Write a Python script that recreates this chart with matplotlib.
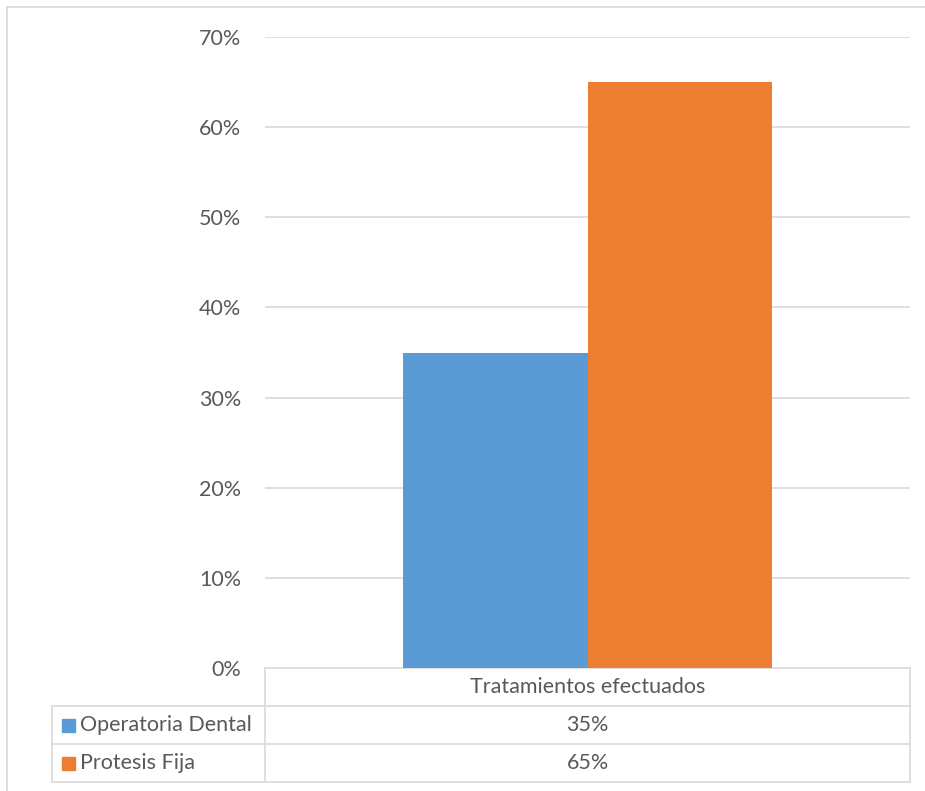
import matplotlib.pyplot as plt
from matplotlib.patches import Rectangle
from matplotlib.lines import Line2D

# data
category = "Tratamientos efectuados"
series_names = ["Operatoria Dental", "Protesis Fija"]
series_values = [35, 65]
series_colors = ["#5b9bd5", "#ed7d31"]
y_ticks = [0, 10, 20, 30, 40, 50, 60, 70]

W, H = 925, 791
plt.rcParams['font.family'] = ['Lato', 'DejaVu Sans']
text_color = "#595959"
line_color = "#d9d9d9"
fs = 15.5

fig = plt.figure(figsize=(W / 100, H / 100), dpi=100)

def px_box(x0, y0, x1, y1):
    return [x0 / W, 1 - y1 / H, (x1 - x0) / W, (y1 - y0) / H]

# overlay axes in pixel coordinates for the frame and data table
over = fig.add_axes([0, 0, 1, 1])
over.set_xlim(0, W)
over.set_ylim(H, 0)
over.axis("off")
over.add_line(Line2D([7, W], [7, 7], color=line_color, lw=1.2))
over.add_line(Line2D([7, 7], [7, H], color=line_color, lw=1.2))

# plot area
ax = fig.add_axes(px_box(265, 37, 910, 668))
bar_w = 0.286
xs = [0.5 - bar_w / 2, 0.5 + bar_w / 2]
ax.bar(xs, series_values, width=bar_w, color=series_colors, zorder=3)
ax.set_xlim(0, 1)
ax.set_ylim(0, 70)
ax.set_yticks(y_ticks)
ax.set_yticklabels([f"{t}%" for t in y_ticks], fontsize=fs, color=text_color)
ax.tick_params(axis="y", length=0, pad=17)
ax.set_xticks([])
ax.grid(axis="y", color=line_color, lw=1.2, zorder=0)
for s in ax.spines.values():
    s.set_visible(False)

# data table below the plot
left, mid, right = 52, 265, 910
rows = [668, 706, 744, 782]
lw = 1.2
over.add_line(Line2D([mid, right], [rows[0], rows[0]], color=line_color, lw=lw))
for y in rows[1:]:
    over.add_line(Line2D([left, right], [y, y], color=line_color, lw=lw))
over.add_line(Line2D([left, left], [rows[1], rows[3]], color=line_color, lw=lw))
over.add_line(Line2D([mid, mid], [rows[0], rows[3]], color=line_color, lw=lw))
over.add_line(Line2D([right, right], [rows[0], rows[3]], color=line_color, lw=lw))

over.text((mid + right) / 2, (rows[0] + rows[1]) / 2, category,
          ha="center", va="center", fontsize=fs, color=text_color)
for i, (name, val, col) in enumerate(zip(series_names, series_values, series_colors)):
    yc = (rows[i + 1] + rows[i + 2]) / 2
    over.add_patch(Rectangle((62, yc - 6.5), 13, 13, color=col))
    over.text(80, yc, name, ha="left", va="center", fontsize=fs, color=text_color)
    over.text((mid + right) / 2, yc, f"{val}%", ha="center", va="center",
              fontsize=fs, color=text_color)

fig.savefig("out.png", dpi=100)
